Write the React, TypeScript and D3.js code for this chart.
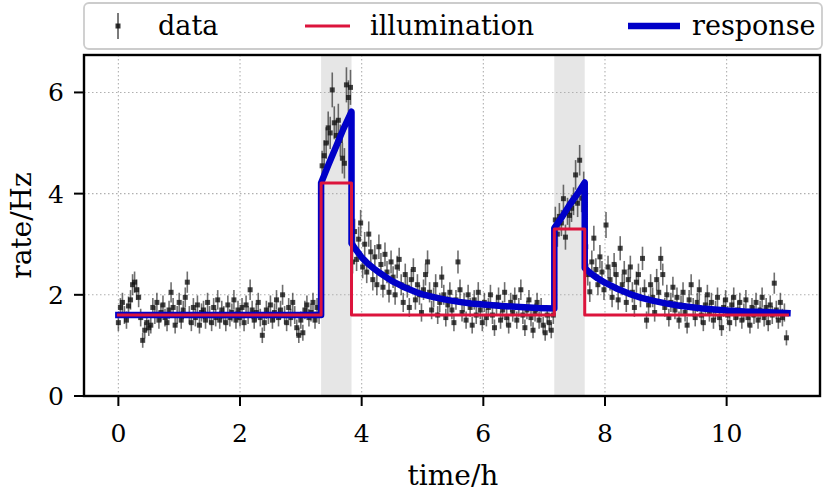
import React from "react";
import * as d3 from "d3";

// ---- data (rates in Hz), sampled evenly inside each time window (hours) ----
const base1Window = [0, 3.333];
const base1Rates = [
  1.45, 1.75, 1.85, 1.6, 1.5, 1.78, 1.9, 2.2, 2.25, 2.1,
  1.95, 1.55, 1.1, 1.3, 1.45, 1.35, 1.4, 1.75, 1.6, 1.85,
  1.5, 1.65, 1.8, 1.55, 1.45, 1.7, 2.05, 1.75, 1.4, 1.6,
  1.85, 1.5, 1.7, 1.95, 2.25, 1.6, 1.45, 1.75, 1.55, 1.8,
  1.4, 1.65, 1.7, 1.5, 1.85, 1.6, 1.45, 1.75, 1.55, 1.9,
  1.5, 1.7, 1.6, 1.45, 1.8, 1.55, 1.65, 1.9, 1.5, 1.7,
  1.55, 1.75, 1.45, 1.8, 1.6, 2.1, 1.7, 1.5, 1.65, 1.85,
  1.55, 1.2, 1.45, 1.7, 1.6, 1.8, 1.5, 1.65, 1.9, 1.55,
  1.7, 2.0, 1.6, 1.45, 1.75, 1.55, 1.85, 1.6, 1.35, 1.2,
  1.5, 1.25, 1.7, 1.8, 1.55, 1.65, 1.85, 1.5, 1.75, 1.6,
];
const peak1Window = [3.333, 3.833];
const peak1Rates = [4.55, 4.75, 5.0, 5.3, 5.2, 6.05, 5.4, 5.15, 5.45, 5.05, 4.7, 4.6, 6.15, 5.9, 6.1];
const decay1Window = [3.833, 7.167];
const decay1Rates = [
  2.65, 3.25, 2.7, 3.1, 3.42, 2.55, 3.0, 2.45, 3.2, 2.85,
  2.3, 2.75, 2.2, 2.95, 2.6, 2.15, 2.8, 2.45, 2.05, 2.65,
  2.35, 2.0, 2.55, 2.7, 2.2, 1.85, 2.4, 2.15, 1.75, 2.3,
  2.5, 1.9, 2.2, 2.0, 1.65, 2.1, 2.4, 2.65, 2.05, 1.7,
  1.95, 2.2, 1.6, 1.85, 2.35, 2.0, 1.55, 1.8, 2.05, 1.7,
  1.45, 1.9, 2.65, 2.1, 1.65, 1.85, 1.5, 2.0, 1.75, 1.4,
  1.9, 1.6, 2.05, 1.7, 1.45, 1.85, 1.55, 1.75, 2.0, 1.6,
  1.35, 1.8, 1.95, 1.5, 1.7, 2.05, 1.55, 1.4, 1.85, 1.65,
  1.95, 1.5, 1.75, 2.1, 1.6, 1.35, 1.7, 1.9, 1.55, 1.3,
  1.65, 1.85, 1.5, 1.75, 1.4, 1.25, 1.6, 1.45, 1.3, 1.6,
];
const peak2Window = [7.167, 7.667];
const peak2Rates = [3.48, 3.2, 3.55, 3.42, 3.9, 3.14, 3.65, 3.57, 3.71, 3.85, 4.37, 3.81, 4.66, 3.91, 4.15];
const decay2Window = [7.667, 11.0];
const decay2Rates = [
  2.95, 2.4, 2.06, 2.65, 3.12, 2.5, 2.2, 2.75, 2.45, 2.1,
  3.38, 2.55, 2.3, 1.95, 2.6, 2.4, 1.9, 2.92, 2.2, 2.45,
  1.85, 2.3, 2.55, 2.05, 1.75, 2.25, 2.4, 1.95, 2.72, 2.1,
  1.5, 1.8, 2.2, 1.95, 1.65, 2.3, 2.05, 2.72, 2.4, 1.75,
  2.0, 1.55, 1.85, 2.15, 1.7, 1.95, 1.5, 1.8, 2.05, 1.65,
  1.4, 1.9, 2.2, 1.75, 1.55, 1.85, 2.1, 1.6, 1.45, 1.8,
  2.0, 1.65, 1.85, 1.5, 1.7, 1.95, 1.55, 1.35, 1.75, 1.9,
  1.6, 1.45, 1.8, 1.95, 1.55, 1.7, 1.85, 1.5, 1.65, 1.9,
  1.55, 1.4, 1.75, 1.6, 1.85, 1.5, 1.7, 1.95, 1.55, 1.75,
  1.45, 1.8, 1.6, 2.23, 1.7, 1.5, 1.85, 1.55, 1.65, 1.15,
];

// illumination step function
const illumTimes = [0, 3.333, 3.833, 7.167, 7.667, 11.0];
const illumLevels = [1.6, 4.21, 1.6, 3.3, 1.6, 1.6];

// illuminated intervals (grey bands)
const bandStarts = [3.333, 7.167];
const bandEnds = [3.833, 7.667];

// model response
const responseTimes = [
  0, 3.333, 3.333, 3.45, 3.58, 3.7, 3.833, 3.833,
  3.9, 3.95, 4.0, 4.1, 4.2, 4.3, 4.4, 4.5, 4.6, 4.7, 4.8, 4.9, 5.0, 5.2, 5.4, 5.6, 5.8, 6.0, 6.3, 6.6, 6.9, 7.167,
  7.167, 7.3, 7.42, 7.55, 7.667, 7.667,
  7.75, 7.85, 8.0, 8.1, 8.2, 8.3, 8.4, 8.5, 8.6, 8.8, 9.0, 9.2, 9.4, 9.6, 9.8, 10.0, 10.3, 10.6, 11.0,
];
const responseRates = [
  1.6, 1.6, 4.21, 4.56, 4.93, 5.28, 5.62, 3.02,
  2.9, 2.82, 2.74, 2.62, 2.52, 2.43, 2.35, 2.27, 2.21, 2.15, 2.1, 2.05, 2.01, 1.95, 1.9, 1.86, 1.83, 1.81, 1.78, 1.76, 1.74, 1.73,
  3.32, 3.55, 3.78, 4.0, 4.22, 2.53,
  2.44, 2.35, 2.24, 2.18, 2.12, 2.07, 2.02, 1.98, 1.94, 1.88, 1.83, 1.79, 1.76, 1.73, 1.71, 1.69, 1.67, 1.66, 1.64,
];

const xTicks = [0, 2, 4, 6, 8, 10];
const yTicks = [0, 2, 4, 6];
const legendLabels = ["data", "illumination", "response"];

// ---- layout ----
const W = 830;
const H = 498;
const L = 84, R = 820, T = 55, B = 396;
const FONT = "'DejaVu Serif', 'Liberation Serif', serif";
const FS = 25;
const FS_LABEL = 28;
const FS_LEG = 27;
const RED = "#dc143c";
const BLUE = "#0000c8";

type Pt = { t: number; v: number };

function segment(win: number[], rates: number[], offset: number): Pt[] {
  const step = (win[1] - win[0]) / rates.length;
  return rates.map((v, i) => ({ t: win[0] + (i + offset) * step, v }));
}

export default function App() {
  const x = d3.scaleLinear().domain([-0.565, 11.535]).range([L, R]);
  const y = d3.scaleLinear().domain([0, 6.74]).range([B, T]);

  const data: Pt[] = [
    ...segment(base1Window, base1Rates, 0),
    ...segment(peak1Window, peak1Rates, 0.5),
    ...segment(decay1Window, decay1Rates, 0.5),
    ...segment(peak2Window, peak2Rates, 0.5),
    ...segment(decay2Window, decay2Rates, 0.5),
  ];
  const errOf = (v: number) => 0.14 * Math.sqrt(v);

  const illumLine = d3
    .line<number>()
    .x((_, i) => x(illumTimes[i]))
    .y((_, i) => y(illumLevels[i]))
    .curve(d3.curveStepAfter);

  const respLine = d3
    .line<number>()
    .x((_, i) => x(responseTimes[i]))
    .y((d) => y(d));

  const ms = 5;
  const legY = 26;

  return (
    <div style={{ position: "fixed", left: 0, top: 0 }}>
      <svg width={W} height={H} style={{ display: "block", background: "#fff" }}>
        <defs>
          <clipPath id="plotclip">
            <rect x={L} y={T} width={R - L} height={B - T} />
          </clipPath>
        </defs>
        {bandStarts.map((s, i) => (
          <rect
            key={"band" + i}
            x={x(s)}
            y={T}
            width={x(bandEnds[i]) - x(s)}
            height={B - T}
            fill="#e6e6e6"
          />
        ))}
        {xTicks.map((t) => (
          <line
            key={"gx" + t}
            x1={x(t)}
            x2={x(t)}
            y1={T}
            y2={B}
            stroke="#b0b0b0"
            strokeWidth={1.1}
            strokeDasharray="1.5,2.5"
          />
        ))}
        {yTicks.map((t) => (
          <line
            key={"gy" + t}
            x1={L}
            x2={R}
            y1={y(t)}
            y2={y(t)}
            stroke="#b0b0b0"
            strokeWidth={1.1}
            strokeDasharray="1.5,2.5"
          />
        ))}
        <g clipPath="url(#plotclip)">
          {data.map((d, i) => (
            <line
              key={"e" + i}
              x1={x(d.t)}
              x2={x(d.t)}
              y1={y(d.v - errOf(d.v))}
              y2={y(d.v + errOf(d.v))}
              stroke="#222"
              strokeOpacity={0.65}
              strokeWidth={1.6}
            />
          ))}
          {data.map((d, i) => (
            <rect
              key={"m" + i}
              x={x(d.t) - ms / 2}
              y={y(d.v) - ms / 2}
              width={ms}
              height={ms}
              fill="#111"
              fillOpacity={0.78}
            />
          ))}
          <path
            d={respLine(responseRates) || ""}
            fill="none"
            stroke={BLUE}
            strokeWidth={6.5}
            strokeLinejoin="round"
            strokeLinecap="square"
          />
          <path
            d={illumLine(illumLevels) || ""}
            fill="none"
            stroke={RED}
            strokeWidth={3}
            strokeLinejoin="round"
            strokeLinecap="square"
          />
        </g>
        <rect x={L} y={T} width={R - L} height={B - T} fill="none" stroke="#000" strokeWidth={2.4} />
        {xTicks.map((t) => (
          <g key={"tx" + t}>
            <line x1={x(t)} x2={x(t)} y1={B} y2={B + 10} stroke="#000" strokeWidth={2} />
            <text
              x={x(t)}
              y={B + 46}
              textAnchor="middle"
              fontFamily={FONT}
              fontSize={FS}
              fill="#000"
            >
              {t}
            </text>
          </g>
        ))}
        {yTicks.map((t) => (
          <g key={"ty" + t}>
            <line x1={L - 10} x2={L} y1={y(t)} y2={y(t)} stroke="#000" strokeWidth={2} />
            <text
              x={L - 20}
              y={y(t) + 9}
              textAnchor="end"
              fontFamily={FONT}
              fontSize={FS}
              fill="#000"
            >
              {t}
            </text>
          </g>
        ))}
        <text
          x={(L + R) / 2 + 1}
          y={485}
          textAnchor="middle"
          fontFamily={FONT}
          fontSize={FS_LABEL}
          fill="#000"
        >
          time/h
        </text>
        <text
          transform={`translate(31, ${(T + B) / 2}) rotate(-90)`}
          textAnchor="middle"
          fontFamily={FONT}
          fontSize={FS_LABEL}
          fill="#000"
        >
          rate/Hz
        </text>
        {/* legend */}
        <rect x={L} y={3} width={822 - L} height={46} rx={5} fill="#fff" fillOpacity={0.8} stroke="#cccccc" strokeWidth={1.8} />
        <line x1={118} x2={118} y1={legY - 13} y2={legY + 13} stroke="#222" strokeOpacity={0.75} strokeWidth={1.6} />
        <rect x={118 - ms / 2} y={legY - ms / 2} width={ms} height={ms} fill="#111" fillOpacity={0.85} />
        <text x={158} y={legY + 9} fontFamily={FONT} fontSize={FS_LEG} fill="#000">
          {legendLabels[0]}
        </text>
        <line x1={305} x2={350} y1={legY} y2={legY} stroke={RED} strokeWidth={3} />
        <text x={370} y={legY + 9} fontFamily={FONT} fontSize={FS_LEG} fill="#000">
          {legendLabels[1]}
        </text>
        <line x1={628} x2={680} y1={legY} y2={legY} stroke={BLUE} strokeWidth={6.5} />
        <text x={692} y={legY + 9} fontFamily={FONT} fontSize={FS_LEG} fill="#000">
          {legendLabels[2]}
        </text>
      </svg>
    </div>
  );
}
